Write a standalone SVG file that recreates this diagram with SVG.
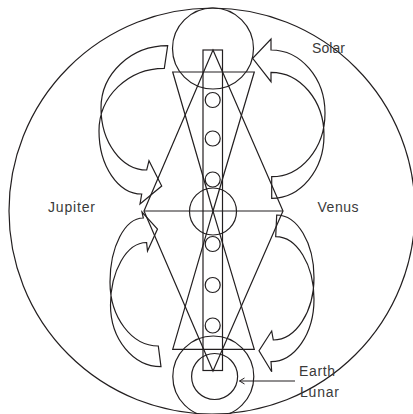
<svg xmlns="http://www.w3.org/2000/svg" width="413" height="414" viewBox="0 0 413 414">
<defs>
<style>
.ln{fill:none;stroke:#231f20;stroke-width:1.2;stroke-linejoin:miter}
.lbl{font-family:"Liberation Sans",Arial,sans-serif;font-size:14px;fill:#3a3a3a}
</style>
<marker id="ah" viewBox="0 0 8 8" refX="7" refY="4" markerWidth="8" markerHeight="8" markerUnits="userSpaceOnUse" orient="auto">
<path d="M2,1 L7,4 L2,7" fill="none" stroke="#231f20" stroke-width="1"/>
</marker>
</defs>
<rect width="413" height="414" fill="#fff"/>
<g id="frame"><ellipse class="ln" cx="212" cy="211" rx="203" ry="203"/></g>
<g id="structure">
<path class="ln" d="M213,50 L283,211 L213,371 L144,211 Z"/>
<line class="ln" x1="144" y1="211" x2="283" y2="211"/>
<path class="ln" d="M172.7,72 L254.3,72 L213,211 Z"/>
<path class="ln" d="M172.7,349.3 L254.3,349.3 L213,211 Z"/>
</g>
<g id="solar"><circle class="ln" cx="213" cy="48.5" r="40.5"/><text class="lbl" x="312" y="53.3" textLength="33">Solar</text></g>
<g id="column">
<rect class="ln" x="203" y="50" width="19.5" height="320.5"/>
<circle class="ln" cx="212.7" cy="100" r="7.5"/>
<circle class="ln" cx="212.7" cy="138.5" r="7.5"/>
<circle class="ln" cx="212.7" cy="179.5" r="7.5"/>
<circle class="ln" cx="212.7" cy="244" r="7.5"/>
<circle class="ln" cx="212.7" cy="285" r="7.5"/>
<circle class="ln" cx="212.7" cy="325.5" r="7.5"/>
</g>
<g id="center"><circle class="ln" cx="213" cy="211.5" r="23.5"/></g>
<g id="jupiter"><text class="lbl" x="48" y="212" textLength="47">Jupiter</text></g>
<g id="venus"><text class="lbl" x="317.5" y="211.5" textLength="41">Venus</text></g>
<g id="earth-lunar">
<circle class="ln" cx="213.3" cy="376.5" r="40.5"/>
<circle class="ln" cx="214.6" cy="376.5" r="23"/>
<text class="lbl" x="299" y="376.3" textLength="36">Earth</text>
<text class="lbl" x="300" y="396.7" textLength="39">Lunar</text>
</g>
<g id="connectors">
<path class="ln" d="M167.7,45.7 C130.9,45.7 101,73.6 101,108 C101,142.2 121.5,170 146.7,170 L149,160.7 L161.7,186 L140,204 L141.7,194 C118.1,194 99,165.8 99,131 C99,96.4 128.2,68.3 164.3,68.3 Z"/>
<path class="ln" d="M271.7,176.7 C301.1,176.7 325,148.2 325,113 C325,78.2 300.8,50 271,50 L271,39 L252.7,58.3 L271,81.7 L271,72.3 C300.3,72.3 324,100.5 324,135.3 C324,170.1 300.6,198.3 271.7,198.3 Z"/>
<path class="ln" d="M276.7,215 C297.3,215 314,243 314,277.5 C314,312 295.8,340 273.3,340 L271.7,331 L259,350.7 L271.7,371.7 L271,361.7 C294.7,361.7 314,333.7 314,299.2 C314,264.7 296.9,236.7 275.7,236.7 Z"/>
<path class="ln" d="M158.3,346 C131.6,346 110,317.3 110,282 C110,246.7 124.9,218 143.3,218 L142,212 L157.5,229 L147.5,251 L146.6,242.5 C126.7,242.5 110.5,270.8 110.5,305 C110.5,339.1 133.1,366.7 161,366.7 Z"/>
<line class="ln" x1="295" y1="381" x2="239.5" y2="381" marker-end="url(#ah)"/>
</g>
</svg>
